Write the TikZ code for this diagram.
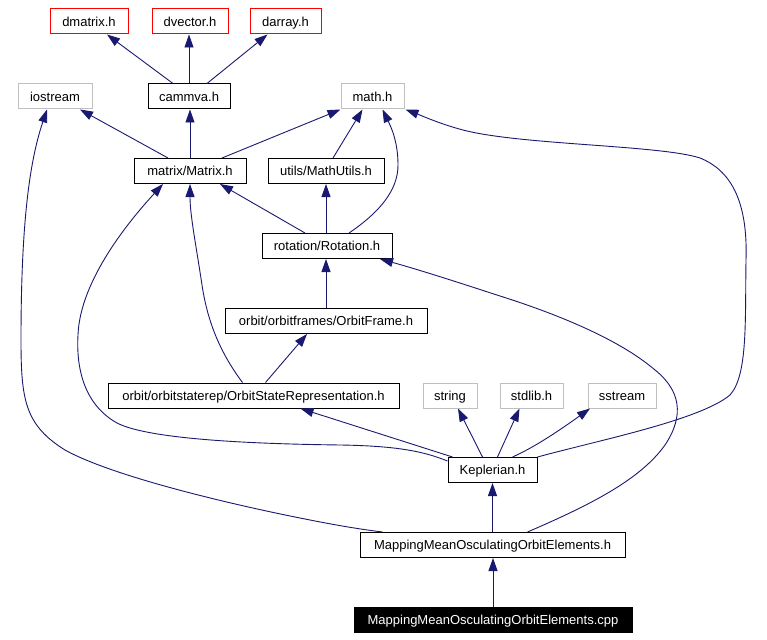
\documentclass[tikz,border=0pt]{standalone}
\usepackage{fontspec}
\setmainfont{Liberation Sans}
\usetikzlibrary{arrows.meta,calc}
\definecolor{edgeblue}{RGB}{25,25,112}
\definecolor{sysgray}{RGB}{191,191,191}
\begin{document}
\begin{tikzpicture}[x=1pt,y=-1pt,
  box/.style={draw=black,line width=1pt,minimum height=25pt,inner sep=0pt,text height=11.6pt,text depth=2pt,font=\fontsize{13}{15}\selectfont,fill=white},
  redbox/.style={box,draw=red},
  graybox/.style={box,draw=sysgray},
  mainbox/.style={box,fill=black,text=white},
  dep/.style={draw=edgeblue,line width=0.9pt,-{Triangle[length=13pt,width=9pt]}}]
\useasboundingbox[fill=white] (0,0) rectangle (767,639);
% nodes
\node[redbox,minimum width=78pt] (dmatrix) at (89,21.5) {dmatrix.h};
\node[redbox,minimum width=76pt] (dvector) at (190,21.5) {dvector.h};
\node[redbox,minimum width=71pt] (darray) at (285.5,21.5) {darray.h};
\node[graybox,minimum width=74pt] (iostream) at (55,96.5) {iostream};
\node[box,minimum width=82pt] (cammva) at (189,96.5) {cammva.h};
\node[graybox,minimum width=63pt] (math) at (372.5,96.5) {math.h};
\node[box,minimum width=112pt] (matrix) at (190,171) {matrix/Matrix.h};
\node[box,minimum width=116pt] (mathutils) at (326,171) {utils/MathUtils.h};
\node[box,minimum width=130pt] (rotation) at (327,246) {rotation/Rotation.h};
\node[box,minimum width=202pt] (orbitframe) at (326,321) {orbit/orbitframes/OrbitFrame.h};
\node[box,minimum width=291pt] (osr) at (253.5,395.5) {orbit/orbitstaterep/OrbitStateRepresentation.h};
\node[graybox,minimum width=54pt] (string) at (450,395.5) {string};
\node[graybox,minimum width=63pt] (stdlib) at (531.5,395.5) {stdlib.h};
\node[graybox,minimum width=68pt] (sstream) at (622,395.5) {sstream};
\node[box,minimum width=89pt] (kep) at (492.5,470) {Keplerian.h};
\node[box,minimum width=265pt] (maph) at (492.5,545) {MappingMeanOsculatingOrbitElements.h};
\node[mainbox,minimum width=278pt] (cpp) at (493,619.5) {MappingMeanOsculatingOrbitElements.cpp};
% edges
\draw[dep] ([xshift=-16pt]cammva.north) -- ([xshift=18pt]dmatrix.south);
\draw[dep] (cammva.north) -- (cammva.north |- dvector.south);
\draw[dep] ([xshift=18pt]cammva.north) -- ([xshift=-18pt]darray.south);
\draw[dep] ([xshift=-22pt]matrix.north) -- ([xshift=25pt]iostream.south);
\draw[dep] (matrix.north) -- (matrix.north |- cammva.south);
\draw[dep] ([xshift=32pt]matrix.north) -- ([xshift=-32pt]math.south);
\draw[dep] ([xshift=7pt]mathutils.north) -- ([xshift=-10pt]math.south);
\draw[dep] ([xshift=22pt]rotation.north) .. controls (380,212) and (398,190) .. (398,165) .. controls (398,140) and (390,125) .. ([xshift=10pt]math.south);
\draw[dep] ([xshift=-22pt]rotation.north) -- ([xshift=30pt]matrix.south);
\draw[dep] ([xshift=-1pt]rotation.north) -- ([xshift=-1pt]rotation.north |- mathutils.south);
\draw[dep] (orbitframe.north) -- (orbitframe.north |- rotation.south);
\draw[dep] ([xshift=12pt]osr.north) -- ([xshift=-19pt]orbitframe.south);
\draw[dep] ([xshift=-11pt]osr.north) .. controls (222,355) and (208,325) .. (202,285) .. controls (196,245) and (190,215) .. (matrix.south);
\draw[dep] ([xshift=-40pt]kep.north) -- ([xshift=47pt]osr.south);
\draw[dep] ([xshift=-10pt]kep.north) -- ([xshift=8pt]string.south);
\draw[dep] ([xshift=5pt]kep.north) -- ([xshift=-12pt]stdlib.south);
\draw[dep] ([xshift=20pt]kep.north) .. controls (535,447) and (560,430) .. ([xshift=-32pt]sstream.south);
\draw[dep] ([yshift=-4pt]kep.north west) .. controls (425,452) and (400,446) .. (341,445)
  .. controls (260,444) and (150,440) .. (117,423)
  .. controls (85,405) and (76,370) .. (78,335)
  .. controls (80,280) and (130,220) .. ([xshift=-27pt]matrix.south);
\draw[dep] (kep.north east) .. controls (600,440) and (700,420) .. (730,395)
  .. controls (748,375) and (745,320) .. (746,260)
  .. controls (748,200) and (730,170) .. (700,158)
  .. controls (660,145) and (520,145) .. (463,130)
  .. controls (440,124) and (420,115) .. ([xshift=1pt]math.south east);
\draw[dep] (maph.north) -- (maph.north |- kep.south);
\draw[dep] ([xshift=23pt]maph.north west) .. controls (350,528) and (320,522) .. (300,518)
  .. controls (220,502) and (110,475) .. (65,450)
  .. controls (25,425) and (21,400) .. (21,340)
  .. controls (21,220) and (30,160) .. ([xshift=-8pt]iostream.south);
\draw[dep] ([xshift=35pt]maph.north) .. controls (590,505) and (640,480) .. (665,445)
  .. controls (685,415) and (680,390) .. (655,370)
  .. controls (620,340) and (560,315) .. (500,296)
  .. controls (460,283) and (420,270) .. ([xshift=53pt]rotation.south);
\draw[dep] (cpp.north) -- (cpp.north |- maph.south);
\end{tikzpicture}
\end{document}
